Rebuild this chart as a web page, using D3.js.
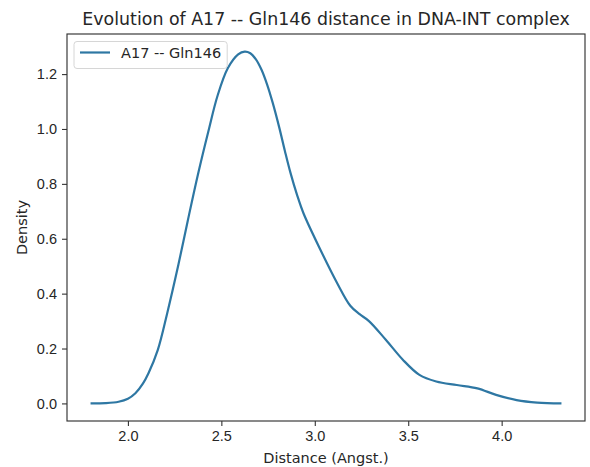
<!DOCTYPE html>
<html>
<head>
<meta charset="utf-8">
<script src="https://cdn.jsdelivr.net/npm/d3@7"></script>
<style>
  html, body { margin: 0; padding: 0; background: #fff; }
  svg { display: block; font-family: "DejaVu Sans", sans-serif; }
</style>
</head>
<body>
<div id="chart"></div>
<script>
// Kernel density estimate of the A17 -- Gln146 distance
const distance = [1.80, 1.88, 1.95, 2.00, 2.04, 2.08, 2.11, 2.16, 2.21, 2.27, 2.32, 2.375, 2.43, 2.48, 2.535, 2.59, 2.625, 2.655, 2.685, 2.715, 2.745, 2.775, 2.81, 2.84, 2.87, 2.905, 2.94, 3.03, 3.12, 3.19, 3.24, 3.29, 3.38, 3.47, 3.56, 3.65, 3.76, 3.87, 3.97, 4.08, 4.19, 4.32];
const density  = [0.000, 0.001, 0.006, 0.017, 0.037, 0.072, 0.110, 0.195, 0.328, 0.505, 0.665, 0.835, 0.990, 1.122, 1.222, 1.272, 1.282, 1.276, 1.254, 1.216, 1.162, 1.095, 1.005, 0.920, 0.840, 0.760, 0.692, 0.560, 0.438, 0.356, 0.325, 0.300, 0.232, 0.160, 0.104, 0.080, 0.067, 0.055, 0.031, 0.012, 0.003, 0.000];

const xTicks = [2.0, 2.5, 3.0, 3.5, 4.0];
const yTicks = [0.0, 0.2, 0.4, 0.6, 0.8, 1.0, 1.2];

const titleText = "Evolution of A17 -- Gln146 distance in DNA-INT complex";
const xLabel = "Distance (Angst.)";
const yLabel = "Density";
const seriesName = "A17 -- Gln146";

const W = 590, H = 467;
const margin = { left: 67, right: 5, top: 34, bottom: 46 };
const pw = W - margin.left - margin.right;
const ph = H - margin.top - margin.bottom;

const fs = 14.5;
const lineColor = "#2e77a3";
const textColor = "#262626";

const svg = d3.select("#chart").append("svg")
  .attr("width", W).attr("height", H);

// 5% padding around the data range on both axes
const [x0, x1] = d3.extent(distance);
const xPad = (x1 - x0) * 0.05;
const yMax = d3.max(density);
const yPad = yMax * 0.05;

const x = d3.scaleLinear().domain([x0 - xPad, x1 + xPad]).range([0, pw]);
const y = d3.scaleLinear().domain([-yPad, yMax + yPad]).range([ph, 0]);

const g = svg.append("g").attr("transform", `translate(${margin.left},${margin.top})`);

// curve
const pts = distance.map((d, i) => [d, density[i]]);
const line = d3.line()
  .x(d => x(d[0]))
  .y(d => y(d[1]))
  .curve(d3.curveCatmullRom.alpha(0.5));

g.append("path")
  .datum(pts)
  .attr("fill", "none")
  .attr("stroke", lineColor)
  .attr("stroke-width", 2.2)
  .attr("stroke-linejoin", "round")
  .attr("d", line);

// axes
const xAxis = d3.axisBottom(x).tickValues(xTicks).tickFormat(d3.format(".1f"))
  .tickSize(5).tickPadding(5);
const yAxis = d3.axisLeft(y).tickValues(yTicks).tickFormat(d3.format(".1f"))
  .tickSize(5).tickPadding(5);

const gx = g.append("g").attr("transform", `translate(0,${ph})`).call(xAxis);
const gy = g.append("g").call(yAxis);

[gx, gy].forEach(a => {
  a.select(".domain").remove();
  a.selectAll(".tick line").attr("stroke", "#333").attr("stroke-width", 1.1);
  a.selectAll(".tick text").attr("fill", textColor).style("font-size", fs + "px");
});

// plot frame
g.append("rect")
  .attr("x", 0).attr("y", 0).attr("width", pw).attr("height", ph)
  .attr("fill", "none").attr("stroke", "#333").attr("stroke-width", 1.15);

// title
svg.append("text")
  .attr("x", margin.left + pw / 2).attr("y", 25)
  .attr("text-anchor", "middle")
  .attr("fill", textColor)
  .style("font-size", "17.4px")
  .text(titleText);

// axis labels
svg.append("text")
  .attr("x", margin.left + pw / 2).attr("y", 463)
  .attr("text-anchor", "middle")
  .attr("fill", textColor)
  .style("font-size", fs + "px")
  .text(xLabel);

svg.append("text")
  .attr("transform", `translate(27,${margin.top + ph / 2}) rotate(-90)`)
  .attr("text-anchor", "middle")
  .attr("fill", textColor)
  .style("font-size", fs + "px")
  .text(yLabel);

// legend
const lg = g.append("g").attr("transform", "translate(7,7.5)");
const lgText = lg.append("text")
  .attr("x", 47).attr("y", 16)
  .attr("fill", textColor)
  .style("font-size", fs + "px")
  .text(seriesName);
const tw = lgText.node().getComputedTextLength();
lg.insert("rect", "text")
  .attr("x", 0).attr("y", 0)
  .attr("width", 47 + tw + 6).attr("height", 27)
  .attr("rx", 3).attr("ry", 3)
  .attr("fill", "#fff").attr("fill-opacity", 0.8)
  .attr("stroke", "#d6d6d6").attr("stroke-width", 1);
lg.append("line")
  .attr("x1", 6).attr("x2", 36).attr("y1", 11).attr("y2", 11)
  .attr("stroke", lineColor).attr("stroke-width", 2.2);
</script>
</body>
</html>
